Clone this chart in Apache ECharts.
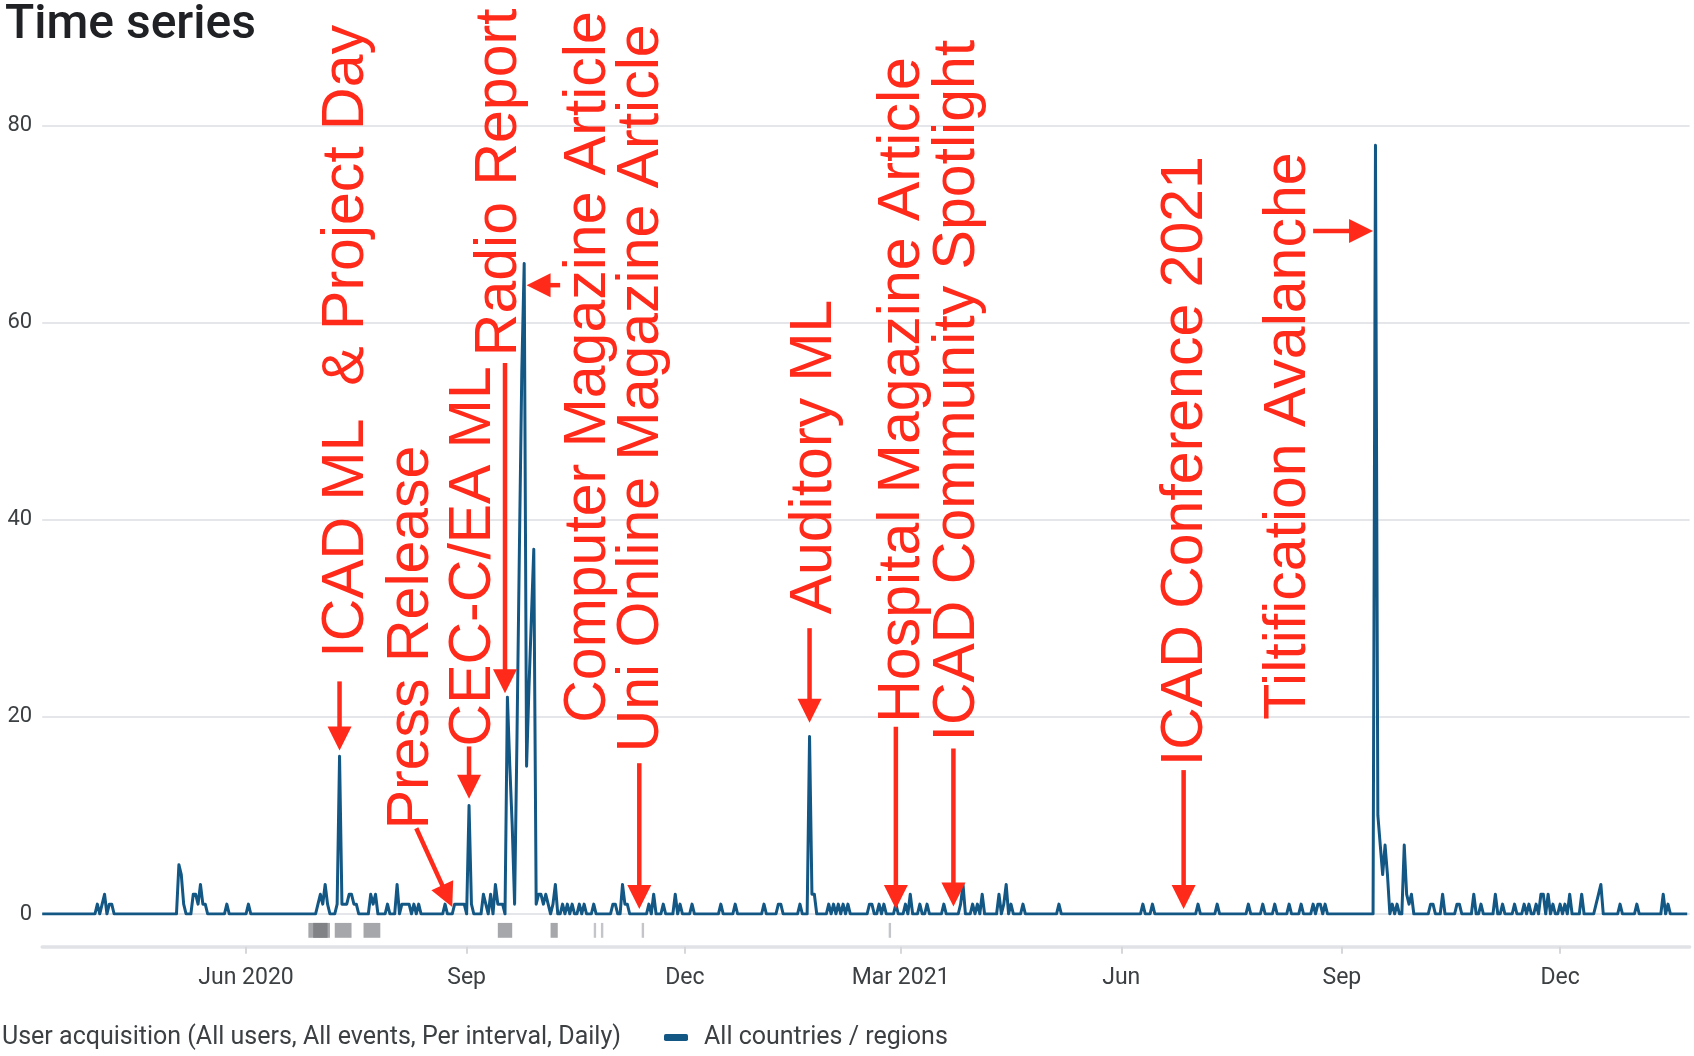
<!DOCTYPE html>
<html>
<head>
<meta charset="utf-8">
<script src="https://cdn.jsdelivr.net/npm/echarts@6.0.0/dist/echarts.min.js"></script>
<style>
  html, body { margin: 0; padding: 0; background: #fff; }
  #main { width: 1694px; height: 1056px; }
</style>
</head>
<body>
<div id="main"></div>
<script>
var chart = echarts.init(document.getElementById('main'));

// new users per day, only the days that are not zero (all others are 0)
var dates2020 = [
  '2020-03-31','2020-04-02','2020-04-03','2020-04-05','2020-04-06','2020-05-04','2020-05-05','2020-05-06',
  '2020-05-10','2020-05-11','2020-05-12','2020-05-13','2020-05-14','2020-05-15','2020-05-24','2020-06-02',
  '2020-07-01','2020-07-02','2020-07-03','2020-07-04','2020-07-05','2020-07-09','2020-07-10','2020-07-11',
  '2020-07-12','2020-07-13','2020-07-14','2020-07-15','2020-07-16','2020-07-17','2020-07-23','2020-07-24',
  '2020-07-25','2020-07-30','2020-08-03','2020-08-05','2020-08-06','2020-08-07','2020-08-08','2020-08-10',
  '2020-08-12','2020-08-23','2020-08-27','2020-08-28','2020-08-29','2020-08-30','2020-08-31','2020-09-02',
  '2020-09-03','2020-09-08','2020-09-09','2020-09-11','2020-09-13','2020-09-14','2020-09-15','2020-09-16',
  '2020-09-18','2020-09-19','2020-09-20','2020-09-21','2020-09-22','2020-09-23','2020-09-24','2020-09-25',
  '2020-09-26','2020-09-27','2020-09-28','2020-09-29','2020-09-30','2020-10-01','2020-10-02','2020-10-03',
  '2020-10-04','2020-10-05','2020-10-07','2020-10-08','2020-10-11','2020-10-13','2020-10-15','2020-10-18',
  '2020-10-20','2020-10-24','2020-11-01','2020-11-02','2020-11-05','2020-11-06','2020-11-07','2020-11-16',
  '2020-11-18','2020-11-22','2020-11-27','2020-11-29','2020-12-04','2020-12-16','2020-12-22'
];
var users2020 = [
  1, 1, 2, 1, 1, 5, 4, 1,
  2, 2, 1, 3, 1, 1, 1, 1,
  1, 2, 1, 3, 1, 1, 16, 1,
  1, 1, 2, 2, 1, 1, 2, 1,
  2, 1, 3, 1, 1, 1, 1, 1,
  1, 1, 1, 1, 1, 1, 1, 11,
  1, 2, 1, 2, 3, 1, 1, 1,
  22, 15, 9, 1, 18, 37, 55, 66,
  15, 23, 30, 37, 1, 2, 2, 1,
  2, 1, 1, 3, 1, 1, 1, 1,
  1, 1, 1, 1, 3, 1, 1, 1,
  2, 1, 2, 1, 1, 1, 1
];
var dates2021 = [
  '2021-01-03','2021-01-09','2021-01-10','2021-01-18','2021-01-22','2021-01-23','2021-01-24','2021-01-30',
  '2021-02-01','2021-02-03','2021-02-05','2021-02-07','2021-02-16','2021-02-17','2021-02-20','2021-02-22',
  '2021-02-27','2021-03-03','2021-03-05','2021-03-09','2021-03-12','2021-03-19','2021-03-26','2021-03-27',
  '2021-03-31','2021-04-02','2021-04-04','2021-04-11','2021-04-13','2021-04-14','2021-04-16','2021-04-21',
  '2021-05-06','2021-06-10','2021-06-14','2021-07-03','2021-07-11','2021-07-24','2021-07-30','2021-08-04',
  '2021-08-10','2021-08-15','2021-08-20','2021-08-22','2021-08-23','2021-08-25','2021-09-15','2021-09-16',
  '2021-09-17','2021-09-18','2021-09-19','2021-09-20','2021-09-22','2021-09-24','2021-09-27','2021-09-28',
  '2021-09-29','2021-09-30','2021-10-08','2021-10-09','2021-10-13','2021-10-19','2021-10-20','2021-10-26',
  '2021-10-29','2021-11-04','2021-11-07','2021-11-12','2021-11-16','2021-11-18','2021-11-21','2021-11-23',
  '2021-11-24','2021-11-26','2021-11-28','2021-12-01','2021-12-03','2021-12-05','2021-12-10','2021-12-16',
  '2021-12-17','2021-12-18','2021-12-26'
];
var users2021 = [
  1, 1, 1, 1, 18, 2, 2, 1,
  1, 1, 1, 1, 1, 1, 1, 1,
  1, 1, 2, 1, 1, 1, 1, 3,
  1, 1, 2, 2, 1, 3, 1, 1,
  1, 1, 1, 1, 1, 1, 1, 1,
  1, 1, 1, 1, 1, 1, 78, 10,
  7, 4, 7, 4, 1, 1, 7, 2,
  1, 2, 1, 1, 2, 1, 1, 2,
  1, 2, 1, 1, 1, 1, 1, 2,
  2, 2, 1, 1, 1, 2, 2, 1,
  2, 3, 1
];
var dates2022 = ['2022-01-02', '2022-01-13', '2022-01-15'];
var users2022 = [1, 2, 1];

var firstDay = '2020-03-08';
var lastDay = '2022-01-23';
var axisEnd = '2022-01-24';

var tickDates = ['2020-06-01', '2020-09-01', '2020-12-01', '2021-03-01', '2021-06-01', '2021-09-01', '2021-12-01'];
var tickLabels = ['Jun 2020', 'Sep', 'Dec', 'Mar 2021', 'Jun', 'Sep', 'Dec'];

// grey day markers under the plot
var flagStarts = ['2020-06-27', '2020-07-08', '2020-07-20', '2020-09-14', '2020-10-06', '2020-10-24', '2020-10-27', '2020-11-13', '2021-02-24'];
var flagEnds   = ['2020-07-06', '2020-07-15', '2020-07-27', '2020-09-20', '2020-10-09', '2020-10-25', '2020-10-28', '2020-11-14', '2021-02-25'];
var overlapStarts = ['2020-06-29'];
var overlapEnds   = ['2020-07-05'];

// hand drawn annotations: text start, arrow tail, arrow tip (date, value)
var notes = [
  { text: 'ICAD ML  & Project Day',      at: ['2020-07-13', 26.0], from: ['2020-07-10', 23.6], to: ['2020-07-10', 16.6] },
  { text: 'Press Release',               at: ['2020-08-09', 8.6],  from: ['2020-08-11', 8.7],  to: ['2020-08-26', 0.7] },
  { text: 'CEC-C/EA ML',                 at: ['2020-09-04', 17.0], from: ['2020-09-02', 17.0], to: ['2020-09-02', 11.7] },
  { text: 'Radio Report',                at: ['2020-09-15', 56.6], from: ['2020-09-17', 55.9], to: ['2020-09-17', 22.4] },
  { text: 'Computer Magazine Article',   at: ['2020-10-22', 19.4], from: ['2020-10-10', 63.8], to: ['2020-09-26', 63.8] },
  { text: 'Uni Online Magazine Article', at: ['2020-11-13', 16.4], from: ['2020-11-12', 15.3], to: ['2020-11-12', 0.5] },
  { text: 'Auditory ML',                 at: ['2021-01-24', 30.4], from: ['2021-01-22', 29.0], to: ['2021-01-22', 19.4] },
  { text: 'Hospital Magazine Article',   at: ['2021-03-02', 19.4], from: ['2021-02-27', 19.0], to: ['2021-02-27', 0.5] },
  { text: 'ICAD Community Spotlight',    at: ['2021-03-25', 17.5], from: ['2021-03-23', 16.8], to: ['2021-03-23', 0.75] },
  { text: 'ICAD Conference 2021',        at: ['2021-06-28', 15.0], from: ['2021-06-27', 14.6], to: ['2021-06-27', 0.5] },
  { text: 'Tiltification Avalanche',     at: ['2021-08-10', 19.7], from: ['2021-08-20', 69.3], to: ['2021-09-14', 69.3] }
];

var DAY = 86400000;
function ts(s) { return Date.parse(s + 'T00:00:00Z'); }

var byDay = {};
[[dates2020, users2020], [dates2021, users2021], [dates2022, users2022]].forEach(function (p) {
  p[0].forEach(function (d, i) { byDay[d] = p[1][i]; });
});
var daily = [];
for (var t = ts(firstDay); t <= ts(lastDay); t += DAY) {
  var key = new Date(t).toISOString().slice(0, 10);
  daily.push([t, byDay[key] || 0]);
}
var tickTs = tickDates.map(ts);
var flags = flagStarts.map(function (s, i) { return [ts(s), ts(flagEnds[i])]; });
var overlaps = overlapStarts.map(function (s, i) { return [ts(s), ts(overlapEnds[i])]; });

var blue = '#135785';
var red = '#ff2a1a';
var textGrey = '#3c4043';

function flagItem(fill) {
  return function (params, api) {
    var a = api.coord([api.value(0), 24]);
    var b = api.coord([api.value(1), 9]);
    var w = b[0] - a[0];
    return {
      type: 'rect',
      shape: { x: a[0], y: a[1], width: w, height: b[1] - a[1] },
      style: { fill: fill || (w < 4 ? '#c3c5c9' : '#a5a7ab') }
    };
  };
}

option = {
  animation: false,
  title: [
    {
      text: 'Time series', left: 5, top: 2, padding: 0,
      textStyle: { fontSize: 48, fontWeight: 500, color: '#202124', fontFamily: 'Roboto' }
    },
    {
      text: 'User acquisition (All users, All events, Per interval, Daily)', left: 2, top: 1025, padding: 0,
      textStyle: { fontSize: 25, fontWeight: 'normal', color: textGrey, fontFamily: 'Roboto' }
    }
  ],
  legend: {
    data: ['All countries / regions'],
    left: 664, top: 1025, padding: 0,
    icon: 'roundRect', itemWidth: 24, itemHeight: 7,
    textStyle: { fontSize: 25, color: textGrey, fontFamily: 'Roboto', padding: [0, 0, 0, 11] }
  },
  grid: [
    { left: 42.2, right: 4.4, top: 125.5, bottom: 142 },
    { left: 42.2, right: 4.4, top: 914, bottom: 109.3 }
  ],
  xAxis: [
    { type: 'value', gridIndex: 0, min: ts(firstDay), max: ts(axisEnd), show: false, splitLine: { show: false } },
    {
      type: 'value', gridIndex: 1, min: ts(firstDay), max: ts(axisEnd),
      axisLine: { lineStyle: { color: '#e0e2e6', width: 3.5 } },
      axisTick: { customValues: tickTs, length: 7, lineStyle: { color: '#d5d7db', width: 2 } },
      axisLabel: {
        customValues: tickTs,
        formatter: function (v) { var i = tickTs.indexOf(v); return i < 0 ? '' : tickLabels[i]; },
        margin: 20, fontSize: 23, color: textGrey, fontFamily: 'Roboto'
      },
      splitLine: { show: false }
    }
  ],
  yAxis: [
    {
      type: 'value', gridIndex: 0, min: 0, max: 80, interval: 20,
      axisLine: { show: false }, axisTick: { show: false },
      axisLabel: { margin: 10, fontSize: 22, color: textGrey, fontFamily: 'Roboto' },
      splitLine: { lineStyle: { color: '#e4e6ea', width: 2 } }
    },
    { type: 'value', gridIndex: 1, min: 0, max: 33, show: false, splitLine: { show: false } }
  ],
  series: [
    {
      name: 'All countries / regions', type: 'line', xAxisIndex: 0, yAxisIndex: 0,
      data: daily, symbol: 'none', silent: true,
      lineStyle: { color: blue, width: 3, join: 'round' }, itemStyle: { color: blue }
    },
    {
      type: 'custom', xAxisIndex: 1, yAxisIndex: 1, silent: true,
      encode: { x: [0, 1] }, data: flags, renderItem: flagItem()
    },
    {
      type: 'custom', xAxisIndex: 1, yAxisIndex: 1, silent: true,
      encode: { x: [0, 1] }, data: overlaps, renderItem: flagItem('#808286')
    }
  ]
};
chart.setOption(option);

// annotations placed through the axes of the main grid
var gfx = [];
notes.forEach(function (n) {
  var p = chart.convertToPixel({ gridIndex: 0 }, [ts(n.at[0]), n.at[1]]);
  gfx.push({
    type: 'text', x: p[0], y: p[1], rotation: Math.PI / 2, z: 20,
    style: { text: n.text, fontSize: 59, fontFamily: 'Liberation Sans', fill: red, align: 'left', verticalAlign: 'middle' }
  });
  var a = chart.convertToPixel({ gridIndex: 0 }, [ts(n.from[0]), n.from[1]]);
  var b = chart.convertToPixel({ gridIndex: 0 }, [ts(n.to[0]), n.to[1]]);
  var dx = b[0] - a[0], dy = b[1] - a[1], len = Math.sqrt(dx * dx + dy * dy);
  var ux = dx / len, uy = dy / len, head = 24, half = 12;
  var bx = b[0] - ux * head, by = b[1] - uy * head;
  gfx.push({
    type: 'line', z: 20,
    shape: { x1: a[0], y1: a[1], x2: bx + ux * 2, y2: by + uy * 2 },
    style: { stroke: red, lineWidth: 4.5 }
  });
  gfx.push({
    type: 'polygon', z: 20,
    shape: { points: [[b[0], b[1]], [bx - uy * half, by + ux * half], [bx + uy * half, by - ux * half]] },
    style: { fill: red }
  });
});
chart.setOption({ graphic: gfx });
</script>
</body>
</html>
